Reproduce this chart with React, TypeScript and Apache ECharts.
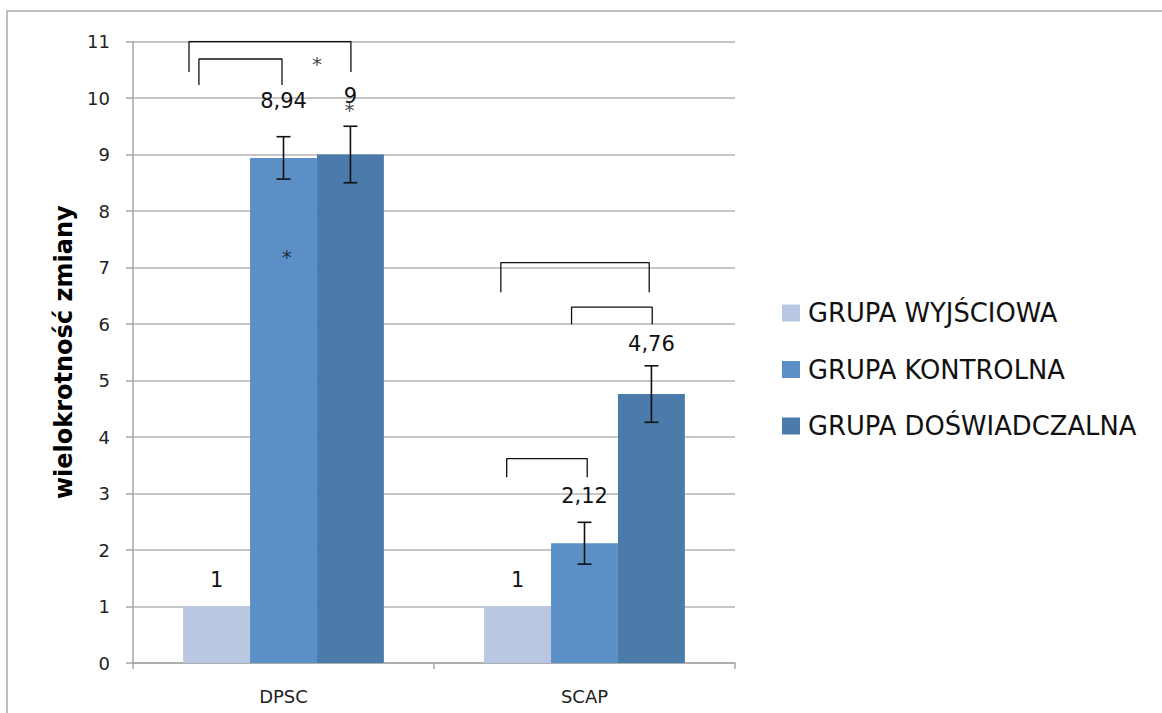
import React, { useEffect, useRef } from "react";
import * as echarts from "echarts";

const categories = ["DPSC", "SCAP"];
const seriesNames = ["GRUPA WYJŚCIOWA", "GRUPA KONTROLNA", "GRUPA DOŚWIADCZALNA"];
const wyjsciowa = [1, 1];
const kontrolna = [8.94, 2.12];
const doswiadczalna = [9, 4.76];
const errKontrolna = [0.375, 0.37];
const errDoswiadczalna = [0.5, 0.5];
const yMin = 0;
const yMax = 11;
const yStep = 1;

// significance brackets: [xLeft, xRight, top, legBottom] in (category units, value units)
const brackets = [
  [0.186, 0.724, 11.0, 10.46],
  [0.219, 0.495, 10.69, 10.23],
  [1.222, 1.715, 7.085, 6.56],
  [1.457, 1.725, 6.3, 5.995],
  [1.2415, 1.509, 3.616, 3.287],
];
// asterisks: [x, y]
const stars = [
  [0.611, 10.67],
  [0.719, 9.86],
  [0.511, 7.25],
];

const FONT = "DejaVu Sans";
const colors = ["#b9c7e2", "#5b90c6", "#4a7baa"];
const labelLift = [
  [-11, -11],
  [-41, -32],
  [-43, -35],
];
const CAT_GAP = 0.333;

function fmt(v: number) {
  return String(v).replace(".", ",");
}

export default function App() {
  const ref = useRef<HTMLDivElement>(null);
  useEffect(() => {
    if (!ref.current) return;
    const chart = echarts.init(ref.current, null, { renderer: "svg" });
    const barData = [wyjsciowa, kontrolna, doswiadczalna];

    const barSeries = barData.map((arr, si) => ({
      name: seriesNames[si],
      type: "bar",
      barGap: "0%",
      barCategoryGap: (CAT_GAP * 100).toFixed(1) + "%",
      itemStyle: { color: colors[si] },
      data: arr.map((v, ci) => ({
        value: v,
        label: {
          show: true,
          position: "top",
          offset: [0, labelLift[si][ci]],
          formatter: () => fmt(v),
          fontFamily: FONT,
          fontSize: 21,
          color: "#111",
        },
      })),
      z: 2,
    }));

    const errSeries = (vals: number[], errs: number[], slot: number) => ({
      type: "custom",
      xAxisIndex: 0,
      yAxisIndex: 0,
      z: 5,
      silent: true,
      data: vals.map((v, i) => [i, v, errs[i]]),
      encode: { x: 0, y: 1 },
      renderItem: (params: any, api: any) => {
        const c = api.value(0);
        const v = api.value(1);
        const e = api.value(2);
        const band = api.size([1, 0])[0];
        const barW = (band * (1 - CAT_GAP)) / 3;
        const top = api.coord([c, v + e]);
        const bot = api.coord([c, v - e]);
        const x = top[0] + slot * barW;
        const hw = 7;
        const style = { stroke: "#111", lineWidth: 1.6 };
        return {
          type: "group",
          children: [
            { type: "line", shape: { x1: x, y1: top[1], x2: x, y2: bot[1] }, style },
            { type: "line", shape: { x1: x - hw, y1: top[1], x2: x + hw, y2: top[1] }, style },
            { type: "line", shape: { x1: x - hw, y1: bot[1], x2: x + hw, y2: bot[1] }, style },
          ],
        };
      },
    });

    const bracketSeries = brackets.map((b) => ({
      type: "line",
      xAxisIndex: 1,
      yAxisIndex: 0,
      symbol: "none",
      silent: true,
      z: 6,
      lineStyle: { color: "#111", width: 1.3 },
      data: [
        [b[0], b[3]],
        [b[0], b[2]],
        [b[1], b[2]],
        [b[1], b[3]],
      ],
    }));

    const starSeries = {
      type: "scatter",
      xAxisIndex: 1,
      yAxisIndex: 0,
      symbolSize: 1,
      itemStyle: { color: "rgba(0,0,0,0)" },
      silent: true,
      z: 7,
      label: {
        show: true,
        position: "inside",
        formatter: "*",
        fontFamily: FONT,
        fontSize: 20,
        color: "#111",
        offset: [0, 4],
      },
      data: stars,
    };

    chart.setOption({
      animation: false,
      textStyle: { fontFamily: FONT },
      grid: { left: 133, right: 427, top: 41.5, bottom: 50 },
      legend: {
        data: seriesNames,
        orient: "vertical",
        left: 782,
        top: 300,
        padding: 0,
        itemWidth: 18,
        itemHeight: 17,
        itemGap: 30.5,
        icon: "rect",
        textStyle: { fontFamily: FONT, fontSize: 25.8, color: "#111", lineHeight: 26, padding: [0, 0, 0, 3] },
      },
      xAxis: [
        {
          type: "category",
          data: categories,
          axisLine: { lineStyle: { color: "#a6a6a6", width: 1.5 } },
          axisTick: { show: true, length: 6, lineStyle: { color: "#a6a6a6", width: 1.5 } },
          axisLabel: { fontFamily: FONT, fontSize: 18, color: "#222", margin: 24 },
        },
        { type: "value", min: 0, max: 2, show: false },
      ],
      yAxis: {
        type: "value",
        min: yMin,
        max: yMax,
        interval: yStep,
        name: "wielokrotność zmiany",
        nameLocation: "middle",
        nameGap: 57,
        nameRotate: 90,
        nameTextStyle: { fontFamily: FONT, fontSize: 24, fontWeight: "bold", color: "#000" },
        axisLine: { show: true, lineStyle: { color: "#a6a6a6", width: 1.5 } },
        axisTick: { show: true, length: 7, lineStyle: { color: "#a6a6a6", width: 1.5 } },
        axisLabel: { fontFamily: FONT, fontSize: 18, color: "#222", margin: 23 },
        splitLine: { show: true, lineStyle: { color: "#b3b3b3", width: 1.5 } },
      },
      graphic: [
        {
          type: "rect",
          shape: { x: 7, y: 11, width: 1200, height: 800 },
          style: { fill: "none", stroke: "#ababab", lineWidth: 1.5 },
          silent: true,
        },
      ],
      series: [
        ...barSeries,
        errSeries(kontrolna, errKontrolna, 0),
        errSeries(doswiadczalna, errDoswiadczalna, 1),
        ...bracketSeries,
        starSeries,
      ],
    });
    return () => chart.dispose();
  }, []);
  return (
    <div
      ref={ref}
      style={{ position: "absolute", left: 0, top: 0, width: 1162, height: 713, background: "#fff" }}
    />
  );
}
